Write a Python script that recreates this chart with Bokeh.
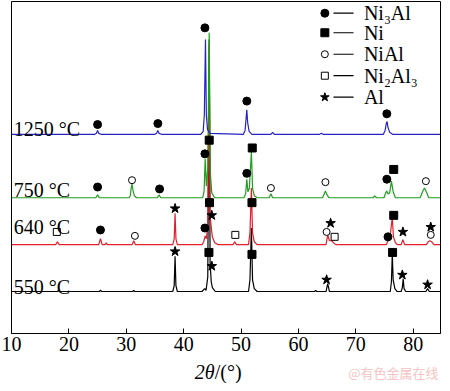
from bokeh.plotting import figure
from bokeh.layouts import column
from bokeh.models import FixedTicker
from bokeh.core.properties import value
from bokeh.embed import file_html
from bokeh.resources import INLINE

# ---------------- data (2theta in degrees, intensity in arbitrary units) ----------------
x_1250 = [10, 24.5, 24.8, 25.0, 25.2, 25.6, 35.0, 35.3, 35.5, 35.7, 36.1, 43.0, 43.4, 43.6, 43.8, 43.95, 44.15, 44.6,
          50.4, 50.7, 50.9, 51.0, 51.15, 51.4, 51.9, 55.2, 55.5, 55.8, 63.7, 64.0, 64.3,
          74.8, 75.1, 75.3, 75.45, 75.6, 75.9, 76.4, 84.75]
y_1250 = [0, 0, 1, 4, 1, 0, 0, 1, 4, 1, 0, 0, 3, 20, 97, 20, 5, 1,
          0, 4, 18, 25, 12, 3, 0, 0, 2, 0, 0, 1, 0,
          0, 4, 11, 13, 7, 2, 0, 0]

x_750 = [10, 24.7, 25.0, 25.3, 30.5, 30.7, 30.85, 31.0, 31.15, 31.4, 31.8, 35.4, 35.7, 36.0,
         43.3, 43.55, 43.75, 43.95, 44.2, 44.45, 44.65, 44.9, 45.4,
         50.5, 50.8, 51.0, 51.2, 51.45, 51.8, 52.0, 52.3, 52.8, 54.9, 55.2, 55.5,
         64.2, 64.5, 64.7, 64.9, 65.3, 73.0, 73.3, 73.6, 74.9, 75.2, 75.4, 75.6, 75.9, 76.2, 76.5, 76.9,
         81.2, 81.6, 81.95, 82.3, 82.7, 84.75]
y_750 = [0, 0, 3, 0, 0, 2, 10, 14, 8, 2, 0, 0, 3, 0,
         0, 6, 40, 12, 30, 169, 25, 5, 0,
         0, 4, 19, 6, 10, 47, 10, 2, 0, 0, 4, 0,
         0, 4, 7, 4, 0, 0, 2, 0, 0, 5, 7, 4, 5, 17, 6, 0,
         0, 6, 10, 6, 0, 0]

x_640 = [10, 17.7, 18.0, 18.3, 25.2, 25.5, 25.8, 26.3, 26.5, 26.7, 31.0, 31.3, 31.6,
         38.1, 38.35, 38.5, 38.65, 38.9, 43.2, 43.5, 43.75, 43.95, 44.2, 44.45, 44.6, 44.8, 45.0, 45.4, 46.0,
         48.6, 48.9, 49.2, 51.3, 51.55, 51.8, 52.0, 52.3, 52.8,
         64.8, 65.1, 65.4, 65.8, 66.1, 66.5, 75.3, 75.6, 75.9, 76.35, 76.55, 76.9, 77.2,
         77.9, 78.2, 78.5, 82.3, 82.6, 82.9, 83.2, 83.6, 84.75]
y_640 = [0, 0, 3, 0, 0, 6, 0, 0, 2, 0, 0, 4, 0,
         0, 6, 32, 6, 0, 0, 3, 9, 6, 20, 205, 30, 18, 8, 2, 0,
         0, 3, 0, 0, 12, 58, 12, 3, 0,
         0, 10, 4, 4, 2, 0, 0, 4, 5, 28, 8, 2, 0,
         0, 5, 0, 0, 3, 4, 3, 0, 0]

x_550 = [10, 18.0, 18.2, 18.4, 25.3, 25.5, 25.7, 31.1, 31.3, 31.5,
         38.1, 38.35, 38.5, 38.65, 38.9, 43.2, 43.5, 43.7, 43.9, 44.2, 44.45, 44.6, 44.8, 45.0, 45.5,
         51.3, 51.55, 51.8, 52.0, 52.3, 52.8, 62.8, 63.0, 63.2, 64.8, 65.1, 65.4,
         76.0, 76.2, 76.35, 76.5, 76.8, 77.2, 77.9, 78.1, 78.25, 78.4, 78.7, 82.2, 82.5, 82.8, 84.75]
y_550 = [0, 0, 1, 0, 0, 1.5, 0, 0, 1, 0,
         0, 6, 36, 6, 0, 0, 2, 3, 1, 15, 258, 30, 10, 4, 0,
         0, 12, 65, 12, 3, 0, 0, 1, 0, 0, 8, 0,
         0, 10, 39, 12, 3, 0, 0, 4, 13, 3, 0, 0, 3, 0, 0]

# phase marks: 2theta and absolute plot height
ni3al_x = [25.0, 35.5, 43.7, 51.0, 75.4, 25.0, 35.8, 43.7, 51.0, 75.4, 25.5, 43.7, 75.6]
ni3al_y = [214, 215, 313, 238, 225, 150, 148, 184, 164, 158, 106, 108, 99]
ni_x = [44.45, 51.95, 76.6, 44.5, 51.9, 76.6, 44.4, 51.9, 76.4]
ni_y = [198, 190, 168, 134, 134, 121, 83, 81, 83]
nial_x = [31.0, 55.2, 64.7, 82.2, 31.5, 64.9, 83.05]
nial_y = [157, 149, 155, 156, 100, 104, 101]
ni2al3_x = [17.9, 49.0, 66.3]
ni2al3_y = [104, 101, 99]
al_x = [38.5, 44.9, 65.6, 78.2, 83.05, 38.5, 44.9, 64.9, 78.1, 82.5]
al_y = [128, 121, 113, 104, 109, 84, 69, 55, 60, 50]

temps = ["1250 °C", "750 °C", "640 °C", "550 °C"]
phases = ["Ni₃Al", "Ni", "NiAl", "Ni₂Al₃", "Al"]
x_ticks = [10, 20, 30, 40, 50, 60, 70, 80]
x_title = ["2θ", "/(°)"]
watermark = "@有色金属在线"

# ---------------- layout / style ----------------
offsets = [204, 139, 91, 43]
colors = ["#2424c4", "#1f9e1f", "#e0202a", "#000000"]
label_y = [209, 147, 109, 48]
SERIF = "Liberation Serif"
X_RANGE = (10, 84.75)

p = figure(width=442, height=359, x_range=X_RANGE, y_range=(0, 340),
           output_backend="svg", toolbar_location=None,
           min_border_left=11, min_border_right=2, min_border_top=1, min_border_bottom=26)
p.grid.visible = False
p.yaxis.visible = False
p.outline_line_color = "black"
p.outline_line_width = 1
p.background_fill_color = "white"
p.border_fill_color = "white"

ax = p.xaxis[0]
ax.ticker = FixedTicker(ticks=x_ticks)
ax.minor_tick_line_color = None
ax.major_tick_in = 5
ax.major_tick_out = 0
ax.axis_line_color = "black"
ax.major_label_text_font = SERIF
ax.major_label_text_font_size = "20px"
ax.major_label_text_color = "black"
ax.major_label_standoff = 3

series = [(x_550, y_550), (x_640, y_640), (x_750, y_750), (x_1250, y_1250)]
for (xs, ys), off, col in zip(series, offsets[::-1], colors[::-1]):
    p.line(xs, [v + off for v in ys], line_color=col, line_width=1.2)

mk = dict(line_color="black", line_width=1)
p.scatter(ni3al_x, ni3al_y, marker="circle", size=8, fill_color="black", **mk)
p.scatter(ni_x, ni_y, marker="square", size=8, fill_color="black", **mk)
p.scatter(nial_x, nial_y, marker="circle", size=7, fill_color="white", **mk)
p.scatter(ni2al3_x, ni2al3_y, marker="square", size=7, fill_color="white", **mk)
p.scatter(al_x, al_y, marker="star", size=10, fill_color="black", **mk)

# temperature labels
p.text(x=[10.4] * 4, y=label_y, text=temps, text_font=value(SERIF), text_font_size="20px",
       text_baseline="alphabetic", text_align="left", text_color="black")

# legend
leg_y = [328, 308, 286, 264, 242]
leg_marker = ["circle", "square", "circle", "square", "star"]
leg_fill = ["black", "black", "white", "white", "black"]
leg_size = [8, 8, 7, 7, 9]
p.scatter([64.6] * 5, leg_y, marker=leg_marker, size=leg_size, fill_color=leg_fill, line_color="black")
p.segment(x0=[66.1] * 5, y0=leg_y, x1=[69.6] * 5, y1=leg_y, line_color="black", line_width=1.2)
p.text(x=[71.4] * 5, y=leg_y, text=phases, text_font=value(SERIF), text_font_size="20px",
       text_baseline="middle", text_align="left", text_color="black")

# strip under the axis: x-axis title (2θ in italics) and watermark
q = figure(width=442, height=24, x_range=X_RANGE, y_range=(0, 1),
           output_backend="svg", toolbar_location=None,
           min_border_left=11, min_border_right=2, min_border_top=0, min_border_bottom=0)
q.axis.visible = False
q.grid.visible = False
q.outline_line_color = None
q.background_fill_color = "white"
q.border_fill_color = "white"
q.text(x=[45.4], y=[0.5], text=[x_title[0]], text_font=value(SERIF), text_font_size="20px",
       text_font_style="italic", text_baseline="middle", text_align="right", text_color="black")
q.text(x=[45.4], y=[0.5], text=[x_title[1]], text_font=value(SERIF), text_font_size="20px",
       text_baseline="middle", text_align="left", text_color="black")
q.text(x=[84.4], y=[0.45], text=[watermark], text_font=value("Noto Sans CJK SC"), text_font_size="13px",
       text_baseline="middle", text_align="right", text_color="#f5c4c4")

open("out.html", "w").write(file_html(column(p, q, spacing=0), INLINE))
